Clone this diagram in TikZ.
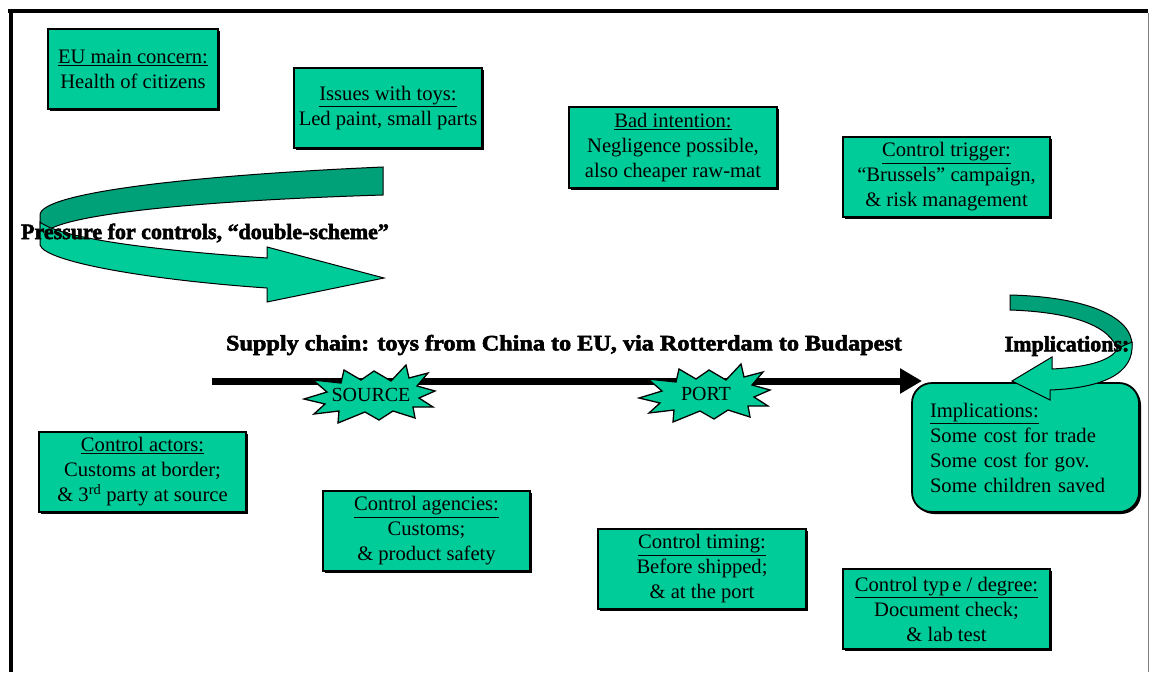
\documentclass[tikz,border=0pt]{standalone}
\usepackage{fontspec}
\setmainfont{Liberation Serif}
\newfontfamily\heavyfont[BoldFeatures={FakeBold=2.5}]{Liberation Serif}
\usetikzlibrary{shadows,arrows.meta}
\definecolor{tealA}{RGB}{0,204,153}
\definecolor{tealB}{RGB}{0,160,120}
\tikzset{
  infobox/.style={draw=black, line width=1.3pt, fill=tealA, align=center, inner sep=0pt,
    font=\fontsize{20.6}{25}\selectfont,
    drop shadow={shadow xshift=2pt, shadow yshift=-2pt, fill=black, opacity=1}},
  implbox/.style={draw=black, line width=1.8pt, fill=tealA, align=left, rounded corners=20pt,
    inner xsep=18pt, inner ysep=0pt, text width=191pt, minimum height=129pt,
    font=\fontsize{20.6}{25}\selectfont,
    drop shadow={shadow xshift=2pt, shadow yshift=-2pt, fill=black, opacity=1}},
  burstshape/.style={fill=tealA, draw=black, line width=1.3pt, line join=miter},
  bursttext/.style={inner sep=0pt, font=\fontsize{20}{24}\selectfont},
  ribbonfront/.style={fill=tealA, draw=black, line width=1pt, line join=miter},
  ribbonback/.style={fill=tealB, draw=black, line width=1pt, line join=miter},
  boldlabel/.style={inner sep=0pt, font=\heavyfont\bfseries\fontsize{22}{26}\selectfont},
  chainarrow/.style={line width=7pt, -{Triangle[length=22pt,width=24pt]}},
  framebar/.style={line width=4pt, black},
}
\begin{document}
\begin{tikzpicture}[x=1pt,y=-1pt]
\useasboundingbox (0,0) rectangle (1156,672);
\fill[white] (0,0) rectangle (1156,672);

% frame
\draw[framebar] (8,11) -- (1148,11);
\draw[framebar] (11,9) -- (11,672);
\draw[gray, line width=1pt] (1148,13) -- (1148,672);

% boxes
\node[infobox, minimum width=170pt, minimum height=80pt] (eu) at (133,69)
  {\underline{EU main concern:}\\Health of citizens};
\node[infobox, minimum width=188pt, minimum height=80pt] (toys) at (388,108)
  {\underline{Issues with toys:}\\Led paint, small parts};
\node[infobox, minimum width=208pt, minimum height=81pt] (bad) at (673,147.5)
  {\underline{Bad intention:}\\Negligence possible,\\also cheaper raw-mat};
\node[infobox, minimum width=207pt, minimum height=80pt] (trigger) at (946.5,177)
  {\underline{Control trigger:}\\“Brussels” campaign,\\\& risk management};
\node[infobox, minimum width=207pt, minimum height=80pt] (actors) at (142.5,472)
  {\underline{Control actors:}\\Customs at border;\\\& 3\textsuperscript{rd} party at source};
\node[infobox, minimum width=207pt, minimum height=80pt] (agencies) at (426.5,531)
  {\underline{Control agencies:}\\Customs;\\\& product safety};
\node[infobox, minimum width=208pt, minimum height=80pt] (timing) at (702,569)
  {\underline{Control timing:}\\Before shipped;\\\& at the port};
\node[infobox, minimum width=207pt, minimum height=80pt] (ctype) at (946.5,609)
  {\underline{Control typ\hspace{3pt}e / degree:}\\Document check;\\\& lab test};

% implications box
\node[implbox] (impl) at (1025.5,447.5)
  {\underline{Implications:}\\Some cost for trade\\Some cost for gov.\\Some children saved};

% left ribbon arrow
\path[ribbonback] (383,167) -- (383,195) .. controls (220,200) and (70,212) .. (45,232)
  -- (40,232) -- (40,215) .. controls (40,192) and (200,175) .. (383,167) -- cycle;
\path[ribbonfront] (40,222) -- (40,245) .. controls (45,262) and (150,280) .. (267,288)
  -- (267,302) -- (384,278) -- (267,247) -- (267,258)
  .. controls (150,250) and (60,238) .. (40,222) -- cycle;
\node[boldlabel] (pressure) at (205,233) {Pressure for controls, “double-scheme”};

% supply chain
\node[boldlabel] (chain) at (564,345) {\scalebox{1.1}[1]{Supply chain: toys from China to EU, via Rotterdam to Budapest}};
\coordinate (chainstart) at (212,381);
\coordinate (chainend) at (922,381);
\draw[chainarrow] (chainstart) -- (chainend);

% starbursts
\foreach \cx/\cy in {369/394, 704/393}{
\path[burstshape, shift={(\cx,\cy)}] (-65,5) -- (-42,-2) -- (-56,-14) -- (-28,-11) -- (-25,-24)
  -- (-8,-14) -- (5,-23) -- (22,-13) -- (37,-29) -- (40,-16) -- (59,-21) -- (48,-8)
  -- (66,-3) -- (50,4) -- (64,13) -- (44,13) -- (46,24) -- (24,17) -- (10,26) -- (-4,18)
  -- (-31,29) -- (-30,17) -- (-55,20) -- (-44,10) -- cycle;
}
\node[bursttext] (source) at (371,395) {SOURCE};
\node[bursttext] (port) at (706,394) {PORT};

% right ribbon arrow
\path[ribbonback] (1010,295) .. controls (1090,297) and (1132,318) .. (1132,345)
  -- (1118,352) .. controls (1112,325) and (1070,312) .. (1010,310) -- cycle;
\path[ribbonfront] (1132,342) .. controls (1135,375) and (1100,388) .. (1050,390)
  -- (1050,400) -- (1012,381) -- (1052,357) -- (1052,369)
  .. controls (1090,367) and (1112,360) .. (1118,348) -- cycle;
\node[boldlabel] (implabel) at (1067,346) {Implications:};
\end{tikzpicture}
\end{document}
